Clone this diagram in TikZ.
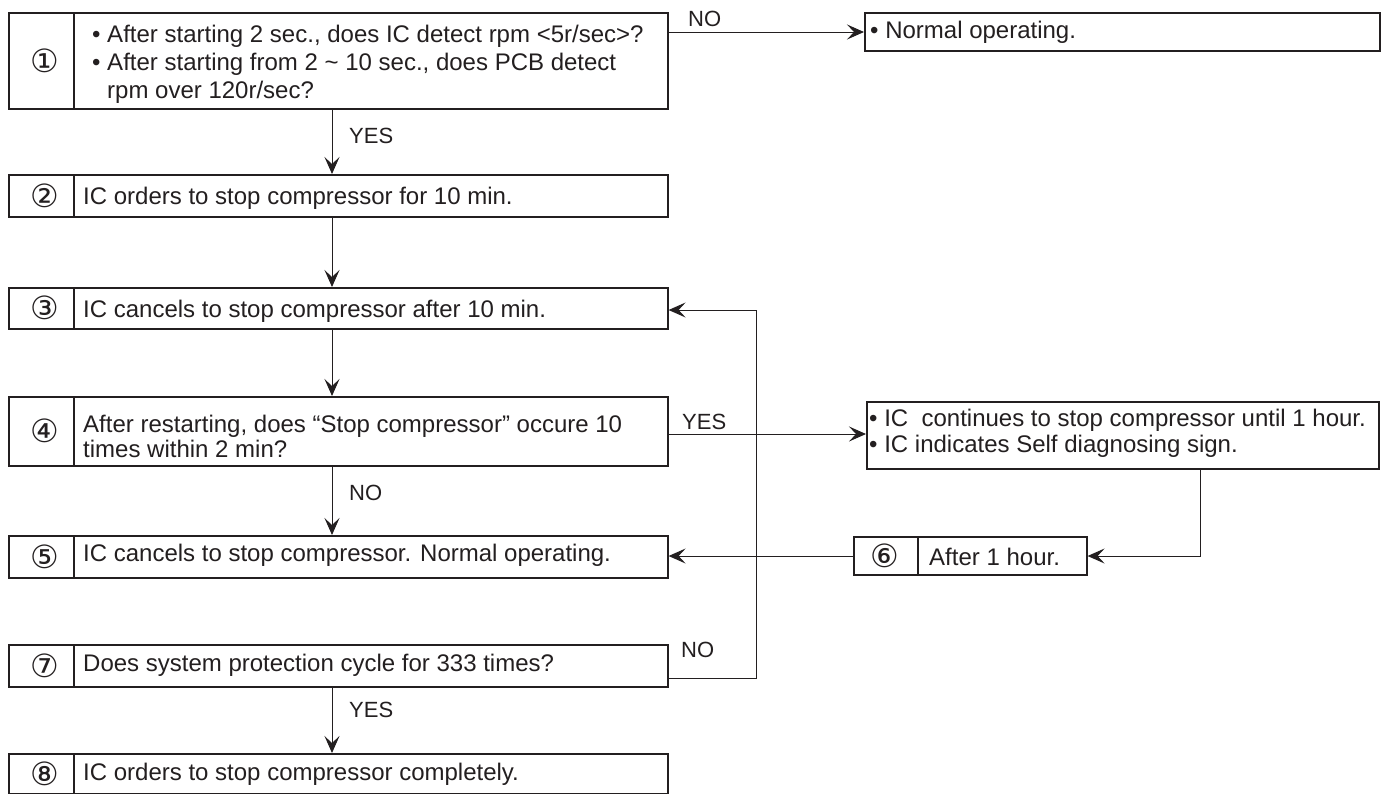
\documentclass[tikz,border=0pt]{standalone}
\usepackage{fontspec}
\setmainfont{Liberation Sans}
\newfontfamily\circfont{DejaVu Sans}
\usetikzlibrary{arrows.meta}
\definecolor{ink}{HTML}{231F20}
\begin{document}
\begin{tikzpicture}[x=1pt,y=-1pt,
  box/.style={draw=ink, line width=1.6pt, inner sep=0pt, anchor=north west, rectangle},
  divider/.style={draw=ink, line width=1.4pt},
  txt/.style={anchor=base west, inner sep=0pt, text=ink, font=\fontsize{24}{28}\selectfont},
  lab/.style={anchor=base west, inner sep=0pt, text=ink, font=\fontsize{22}{26}\selectfont},
  num/.style={anchor=center, inner sep=0pt, text=ink, font=\circfont\fontsize{32}{36}\selectfont},
  conn/.style={draw=ink, line width=1pt},
  arr/.style={conn, -{Stealth[length=17pt,width=15pt,inset=7pt]}}]
\useasboundingbox (0,0) rectangle (1386,793);
\fill[white] (0,0) rectangle (1386,793);

% helper coordinates
\coordinate (dv) at (74,0);
\coordinate (nx) at (45,0);
\coordinate (ax) at (332,0);

% left column boxes
\node[box, minimum width=659pt, minimum height=96pt] (b1) at (8,12) {};
\node[box, minimum width=659pt, minimum height=42pt] (b2) at (8,174) {};
\node[box, minimum width=659pt, minimum height=41pt] (b3) at (8,287) {};
\node[box, minimum width=659pt, minimum height=69pt] (b4) at (8,396) {};
\node[box, minimum width=659pt, minimum height=42pt] (b5) at (8,535) {};
\node[box, minimum width=659pt, minimum height=42pt] (b7) at (8,644) {};
\node[box, minimum width=659pt, minimum height=40pt] (b8) at (8,753) {};

\foreach \b in {b1,b2,b3,b4,b5,b7,b8}
  \draw[divider] (dv |- \b.north) -- (dv |- \b.south);

% right column boxes
\node[box, minimum width=515pt, minimum height=38pt] (bn) at (864,12) {};
\node[box, minimum width=512pt, minimum height=67pt] (br) at (866,401) {};
\node[box, minimum width=233pt, minimum height=38pt] (b6) at (853,536) {};
\coordinate (dv6) at (918,0);
\draw[divider] (dv6 |- b6.north) -- (dv6 |- b6.south);

% numbers
\node[num] (n1) at (nx |- b1) {①};
\node[num] (n2) at (nx |- b2) {②};
\node[num] (n3) at (nx |- b3) {③};
\node[num] (n4) at (nx |- b4) {④};
\node[num] (n5) at (nx |- b5) {⑤};
\node[num] (n6) at (885,556) {⑥};
\node[num] (n7) at (nx |- b7) {⑦};
\node[num] (n8) at (nx |- b8) {⑧};

% texts
\node[txt] (t1a) at (92,42) {• After starting 2 sec., does IC detect rpm <5r/sec>?};
\node[txt] (t1b) at (92,70) {• After starting from 2 \textasciitilde\ 10 sec., does PCB detect};
\node[txt] (t1c) at (107,98) {rpm over 120r/sec?};
\node[txt] (t2) at (83,204) {IC orders to stop compressor for 10 min.};
\node[txt] (t3) at (83,317) {IC cancels to stop compressor after 10 min.};
\node[txt] (t4a) at (83,432) {After restarting, does “Stop compressor” occure 10};
\node[txt] (t4b) at (83,457) {times within 2 min?};
\node[txt] (t5) at (83,561) {IC cancels to stop compressor. Normal operating.};
\node[txt] (t7) at (83,671) {Does system protection cycle for 333 times?};
\node[txt] (t8) at (83,780) {IC orders to stop compressor completely.};
\node[txt] (tn) at (870,38) {• Normal operating.};
\node[txt] (tra) at (869,426) {• IC\ \ continues to stop compressor until 1 hour.};
\node[txt] (trb) at (869,452) {• IC indicates Self diagnosing sign.};
\node[txt] (t6) at (929,565) {After 1 hour.};

% labels
\node[lab] (l1) at (688,26) {NO};
\node[lab] (l2) at (349,143) {YES};
\node[lab] (l3) at (682,429) {YES};
\node[lab] (l4) at (349,500) {NO};
\node[lab] (l5) at (681,657) {NO};
\node[lab] (l6) at (349,717) {YES};

% connectors
\coordinate (ny) at (0,32);
\draw[arr] (b1.east |- ny) -- (bn.west |- ny);
\draw[arr] (ax |- b1.south) -- (ax |- b2.north);
\draw[arr] (ax |- b2.south) -- (ax |- b3.north);
\draw[arr] (ax |- b3.south) -- (ax |- b4.north);
\coordinate (yy) at (0,434);
\draw[arr] (b4.east |- yy) -- (br.west |- yy);
\draw[arr] (ax |- b4.south) -- (ax |- b5.north);
\coordinate (rb) at (1200,556);
\draw[arr] (rb |- br.south) -- (rb) -- (b6.east |- rb);
\draw[arr] (b6.west |- rb) -- (b5.east |- rb);
\coordinate (lp1) at (756,678);
\coordinate (lp2) at (756,310);
\draw[arr] (b7.east |- lp1) -- (lp1) -- (lp2) -- (b3.east |- lp2);
\draw[arr] (ax |- b7.south) -- (ax |- b8.north);
\end{tikzpicture}
\end{document}
